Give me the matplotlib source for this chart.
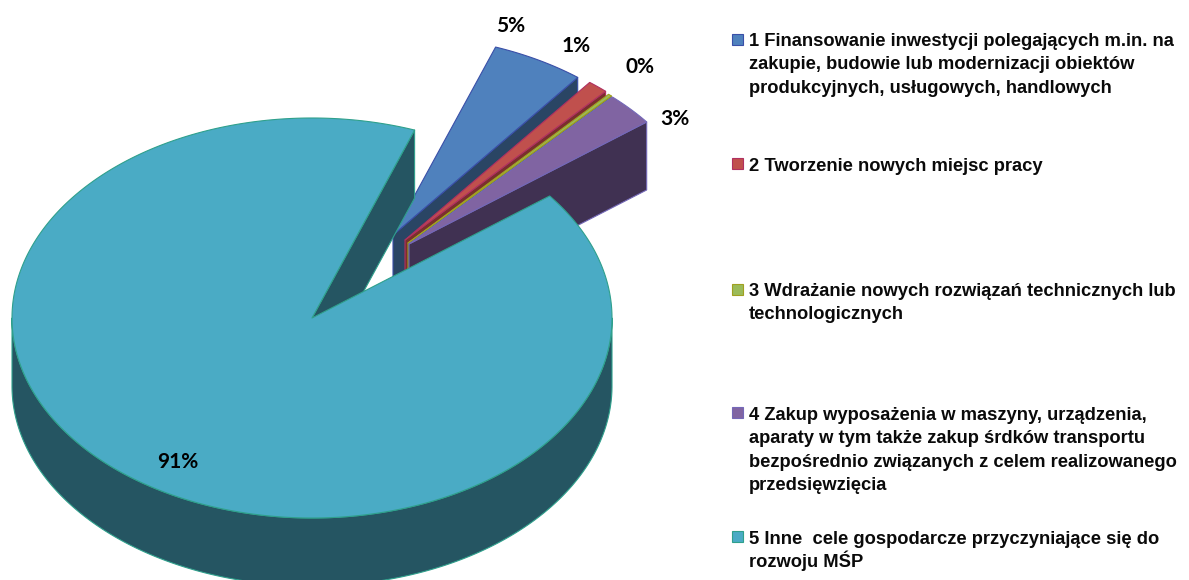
import numpy as np
import matplotlib
matplotlib.use("Agg")
import matplotlib.pyplot as plt
from matplotlib.patches import Polygon, Rectangle

# shares in percent
values = [5.0, 1.1, 0.2, 2.7, 91.0]
legend_labels = [
    "1 Finansowanie inwestycji polegających m.in. na\nzakupie, budowie lub modernizacji obiektów\nprodukcyjnych, usługowych, handlowych",
    "2 Tworzenie nowych miejsc pracy",
    "3 Wdrażanie nowych rozwiązań technicznych lub\ntechnologicznych",
    "4 Zakup wyposażenia w maszyny, urządzenia,\naparaty w tym także zakup śrdków transportu\nbezpośrednio związanych z celem realizowanego\nprzedsięwzięcia",
    "5 Inne  cele gospodarcze przyczyniające się do\nrozwoju MŚP",
]

top_colors = ["#4F81BD", "#C0504D", "#9BBB59", "#8064A2", "#4AABC5"]
side_colors = ["#2A4564", "#7A2F2D", "#5A6E2C", "#403152", "#255562"]
edge_colors = ["#3A4FA8", "#B03060", "#A0A020", "#7468B8", "#2FA08C"]

# pie geometry in pixels
cx, cy = 312, 318
rx, ry = 300, 200
depth = 68
start_angle = 20
offsets = [(81, -83), (93, -78), (96, -75), (97, -74), (0, 0)]

label_pos = [(511, 26), (576, 46), (640, 67), (675, 119), (178, 462)]
legend_square_y = [39, 163, 289, 412, 536]
legend_baseline_y = [46, 171, 296, 420, 544]
line_step = 23.4


def rim(a0, a1, ox=0, oy=0, dy=0):
    # angles are clockwise from the top of the ellipse
    t = np.radians(np.linspace(a0, a1, max(int(abs(a1 - a0) * 2), 2)))
    return np.column_stack([cx + ox + rx * np.sin(t), cy + oy + dy - ry * np.cos(t)])


def poly(ax, pts, face, edge, lw=0.8):
    ax.add_patch(Polygon(pts, closed=True, facecolor=face, edgecolor=edge, linewidth=lw, joinstyle="round"))


fig = plt.figure(figsize=(11.89, 5.8), dpi=100)
ax = fig.add_axes([0, 0, 1, 1])
ax.set_xlim(0, 1189)
ax.set_ylim(580, 0)
ax.axis("off")

angles = start_angle + np.cumsum([0] + [v / sum(values) * 360 for v in values])

# pulled out slices, back to front
for i in range(4):
    ox, oy = offsets[i]
    a0, a1 = angles[i], angles[i + 1]
    apex = (cx + ox, cy + oy)
    end = rim(a1, a1, ox, oy)[0]
    wall = [apex, end, (end[0], end[1] + depth), (apex[0], apex[1] + depth)]
    poly(ax, wall, side_colors[i], edge_colors[i])
    poly(ax, np.vstack([[apex], rim(a0, a1, ox, oy)]), top_colors[i], edge_colors[i])

# big slice: inner wall, front rim, top
a0, a1 = angles[4], angles[5]
inner = rim(a1, a1)[0]
poly(ax, [(cx, cy), inner, (inner[0], inner[1] + depth), (cx, cy + depth)], side_colors[4], edge_colors[4])
poly(ax, np.vstack([rim(90, 270), rim(270, 90, dy=depth)]), side_colors[4], edge_colors[4])
poly(ax, np.vstack([[(cx, cy)], rim(a0, a1)]), top_colors[4], edge_colors[4])

for v, (x, y) in zip(values, label_pos):
    ax.text(x, y, f"{round(v)}%", family="Lato", weight="bold", fontsize=15,
            ha="center", va="center", color="black")

for i, label in enumerate(legend_labels):
    ax.add_patch(Rectangle((732, legend_square_y[i] - 5.5), 11, 11, facecolor=top_colors[i],
                           edgecolor=edge_colors[i], linewidth=0.8))
    for j, line in enumerate(label.split("\n")):
        ax.text(749, legend_baseline_y[i] + j * line_step, line, family="Liberation Sans", weight="bold",
                fontsize=13.2, ha="left", va="baseline", color="#0a0a0a")

fig.savefig("out.png", dpi=100)
